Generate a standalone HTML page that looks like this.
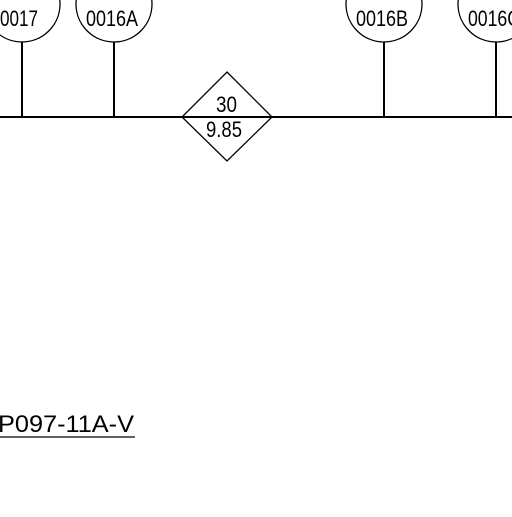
<!DOCTYPE html>
<html><head><style>html,body{margin:0;padding:0;background:#fff}</style></head>
<body>
<svg width="512" height="512" viewBox="0 0 512 512" xmlns="http://www.w3.org/2000/svg" font-family="Liberation Sans, sans-serif">
<rect width="512" height="512" fill="#fff"/>
<g stroke="#000" fill="none" stroke-width="1.3">
<circle cx="22" cy="4" r="38"/>
<circle cx="114" cy="4" r="38"/>
<circle cx="384" cy="4" r="38"/>
<circle cx="496" cy="4" r="38"/>
<line x1="22" y1="42" x2="22" y2="117" stroke-width="2"/>
<line x1="114" y1="42" x2="114" y2="117" stroke-width="2"/>
<line x1="384" y1="42" x2="384" y2="117" stroke-width="2"/>
<line x1="496" y1="42" x2="496" y2="117" stroke-width="2"/>
<line x1="0" y1="117" x2="512" y2="117" stroke-width="2"/>
<polygon points="227,72 272,117 227,161 182,117" fill="#fff"/>
<line x1="182" y1="117" x2="272" y2="117" stroke-width="2"/>
<line x1="0" y1="437" x2="135" y2="437"/>
</g>
<g font-size="22" fill="#000">
<text x="0" y="26" textLength="38" lengthAdjust="spacingAndGlyphs">0017</text>
<text x="86" y="26" textLength="52" lengthAdjust="spacingAndGlyphs">0016A</text>
<text x="356" y="26" textLength="52" lengthAdjust="spacingAndGlyphs">0016B</text>
<text x="468" y="26" textLength="52" lengthAdjust="spacingAndGlyphs">0016C</text>
<text x="216" y="112" textLength="21" lengthAdjust="spacingAndGlyphs">30</text>
<text x="206" y="137" textLength="36" lengthAdjust="spacingAndGlyphs">9.85</text>
<text x="-2" y="432" font-size="24" textLength="136" lengthAdjust="spacingAndGlyphs">P097-11A-V</text>
</g>
</svg>
</body></html>
